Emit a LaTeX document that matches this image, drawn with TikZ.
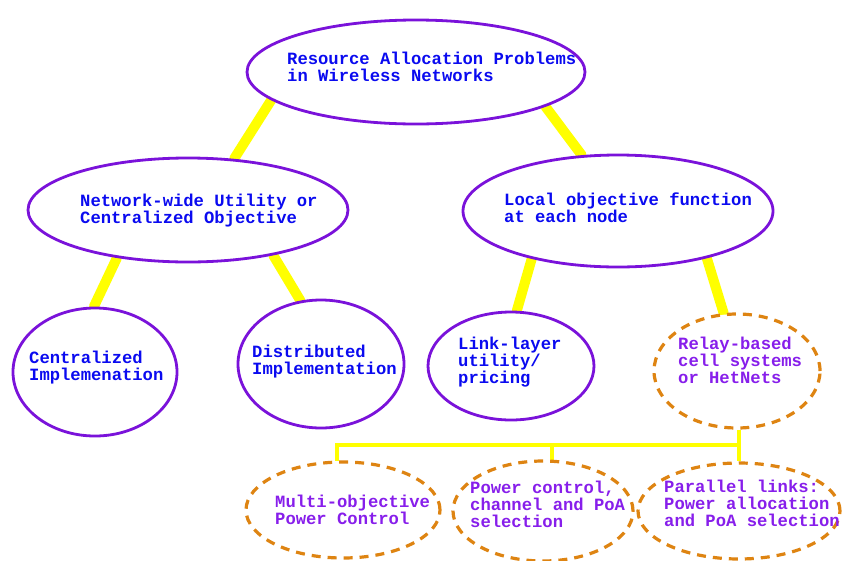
\documentclass[tikz,border=0pt]{standalone}
\usepackage{fontspec}
\setmonofont{Liberation Mono}
\usetikzlibrary{shapes.geometric,backgrounds}
\definecolor{ellpurple}{RGB}{122,18,218}
\definecolor{txtblue}{RGB}{10,10,240}
\definecolor{txtpurple}{RGB}{135,30,235}
\definecolor{dashorange}{RGB}{222,132,18}
\definecolor{ylw}{RGB}{255,255,0}
\tikzset{
  solidell/.style={ellipse, draw=ellpurple, line width=2.8pt, fill=white, inner sep=0pt},
  dashell/.style={ellipse, draw=dashorange, line width=3.2pt, dash pattern=on 9pt off 7pt, fill=white, inner sep=0pt},
  lbl/.style={anchor=base west, align=left, inner sep=0pt, font=\fontsize{17.2}{17}\selectfont\ttfamily\bfseries},
  bluetxt/.style={lbl, text=txtblue},
  purptxt/.style={lbl, text=txtpurple},
  trunk/.style={draw=ylw, line width=10pt, line cap=round},
  bus/.style={draw=ylw, line width=3.5pt}
}
\begin{document}
\begin{tikzpicture}[x=1pt,y=-1pt]
\useasboundingbox (0,0) rectangle (842,560);
% ellipses
\node[solidell, minimum width=338pt, minimum height=104pt] (top) at (416,72) {};
\node[solidell, minimum width=320pt, minimum height=104pt] (net) at (188,210) {};
\node[solidell, minimum width=310pt, minimum height=112pt] (loc) at (618,211) {};
\node[solidell, minimum width=164pt, minimum height=128pt] (cen) at (95,372) {};
\node[solidell, minimum width=166pt, minimum height=128pt] (dis) at (321,364) {};
\node[solidell, minimum width=166pt, minimum height=108pt] (link) at (511,366) {};
\node[dashell, minimum width=166pt, minimum height=114pt] (relay) at (737,371) {};
\node[dashell, minimum width=194pt, minimum height=96pt] (multi) at (343,510) {};
\node[dashell, minimum width=180pt, minimum height=100pt] (pc) at (543,511) {};
\node[dashell, minimum width=202pt, minimum height=96pt] (par) at (739,511) {};
% texts (anchor = baseline of last line)
\node[bluetxt] (ttop) at (287,81.7) {Resource Allocation Problems\\in Wireless Networks};
\node[bluetxt] (tnet) at (80,223.3) {Network-wide Utility or\\Centralized Objective};
\node[bluetxt] (tloc) at (504,222.3) {Local objective function\\at each node};
\node[bluetxt] (tcen) at (29,380) {Centralized\\Implemenation};
\node[bluetxt] (tdis) at (252,374) {Distributed\\Implementation};
\node[bluetxt] (tlink) at (458,383.3) {Link-layer\\utility/\\pricing};
\node[purptxt] (trelay) at (678,383) {Relay-based\\cell systems\\or HetNets};
\node[purptxt] (tmulti) at (275,524) {Multi-objective\\Power Control};
\node[purptxt] (tpc) at (470,527.3) {Power control,\\channel and PoA\\selection};
\node[purptxt] (tpar) at (664,526.7) {Parallel links:\\Power allocation\\and PoA selection};
% connectors
\coordinate (busend) at (739,445);
\begin{pgfonlayer}{background}
\draw[trunk] (top.191) -- (net.48);
\draw[trunk] (top.345) -- (loc.123);
\draw[trunk] (net.214) -- (cen.91);
\draw[trunk] (net.332) -- (dis.108);
\draw[trunk] (loc.209) -- (link.84);
\draw[trunk] (loc.332) -- (relay.103);
\draw[bus] (par.north |- relay.south) -- (par.north);
\draw[bus] (multi.97) |- (busend);
\draw[bus] (pc.80) -- (pc.80 |- busend);
\end{pgfonlayer}
\end{tikzpicture}
\end{document}
